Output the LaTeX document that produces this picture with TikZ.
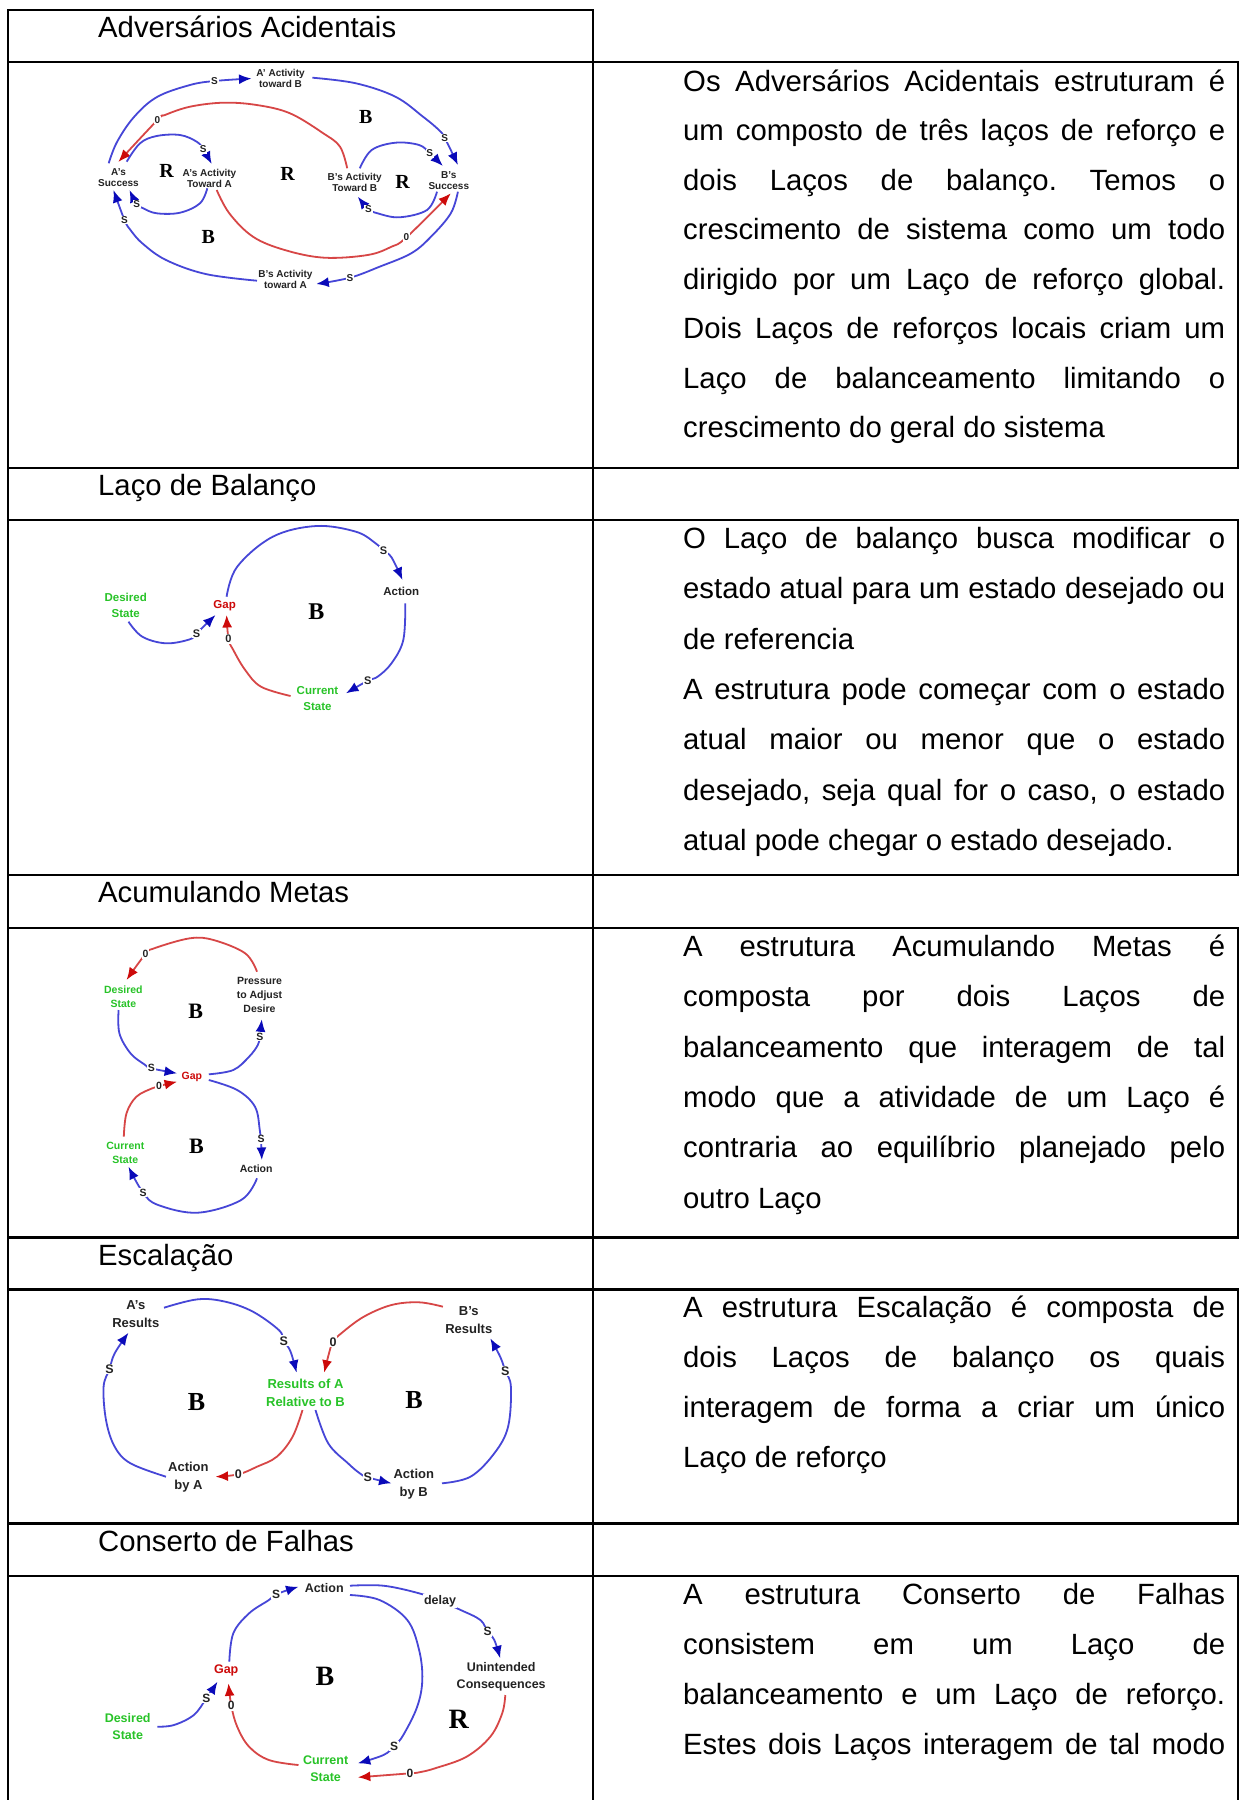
\documentclass[tikz,border=0pt]{standalone}
\usepackage{fontspec}
\setmainfont{Liberation Sans}
\newfontfamily\loopfont{Liberation Serif}
\usetikzlibrary{arrows.meta}
\definecolor{lnblue}{RGB}{70,70,215}
\definecolor{hdblue}{RGB}{10,10,185}
\definecolor{lnred}{RGB}{215,70,70}
\definecolor{hdred}{RGB}{205,10,10}
\definecolor{grn}{RGB}{40,195,40}
\definecolor{lbltxt}{RGB}{35,35,35}
\frenchspacing
\newcommand\jtxt[1]{\makebox[542pt][s]{#1}}
\newcommand\dsz{\fontsize{10}{11}\selectfont}
\newcommand\psz{\fontsize{10}{10}\selectfont}
\newcommand\lsz{\fontsize{20}{20}\selectfont}
\begin{document}
\begin{tikzpicture}[x=1pt,y=-1pt,
 tbl/.style={line width=2.3pt, line cap=rect},
 body/.style={anchor=base west, inner sep=0pt, font=\fontsize{29.3}{35}\selectfont},
 bl/.style={draw=lnblue, line width=1.8pt, -{Latex[length=12.5pt,width=10pt,color=hdblue]}},
 rd/.style={draw=lnred, line width=1.8pt, -{Latex[length=12.5pt,width=10pt,color=hdred]}},
 lb/.style={align=center, inner sep=0pt, text=lbltxt, font=\dsz\bfseries},
 gl/.style={lb, text=grn},
 rl/.style={lb, text=hdred},
 pol/.style={inner sep=0.8pt, fill=white, text=lbltxt, font=\psz\bfseries},
 lp/.style={inner sep=0pt, font=\loopfont\bfseries\lsz},
]
\useasboundingbox (0,0) rectangle (1241,1800);
\fill[white] (0,0) rectangle (1241,1800);

% ---------------- table ----------------
\draw[tbl] (8,10) -- (593,10);
\draw[tbl] (8,10) -- (8,1800);
\draw[tbl] (593,10) -- (593,1800);
\foreach \yy in {61.7,468,520,875,928,1237.5,1289.5,1523.5,1575.7}
  \draw[tbl] (8,\yy) -- (1238,\yy);
\draw[tbl] (1238,61.7) -- (1238,468);
\draw[tbl] (1238,520) -- (1238,875);
\draw[tbl] (1238,928) -- (1238,1237.5);
\draw[tbl] (1238,1289.5) -- (1238,1523.5);
\draw[tbl] (1238,1575.7) -- (1238,1800);

% ---------------- titles ----------------
\node[body] (t1) at (98,37.3) {Adversários Acidentais};
\node[body] (t2) at (98,495) {Laço de Balanço};
\node[body] (t3) at (98,902.5) {Acumulando Metas};
\node[body] (t4) at (98,1265) {Escalação};
\node[body] (t5) at (98,1551) {Conserto de Falhas};

% ---------------- texts ----------------
\node[body] (a1) at (683,91) {\jtxt{Os Adversários Acidentais estruturam é}};
\node[body] (a2) at (683,140.5) {\jtxt{um composto de três laços de reforço e}};
\node[body] (a3) at (683,190) {\jtxt{dois Laços de balanço. Temos o}};
\node[body] (a4) at (683,239.5) {\jtxt{crescimento de sistema como um todo}};
\node[body] (a5) at (683,289) {\jtxt{dirigido por um Laço de reforço global.}};
\node[body] (a6) at (683,338.5) {\jtxt{Dois Laços de reforços locais criam um}};
\node[body] (a7) at (683,388) {\jtxt{Laço de balanceamento limitando o}};
\node[body] (a8) at (683,437.5) {crescimento do geral do sistema};

\node[body] (b1) at (683,548.5) {\jtxt{O Laço de balanço busca modificar o}};
\node[body] (b2) at (683,598.8) {\jtxt{estado atual para um estado desejado ou}};
\node[body] (b3) at (683,649.1) {de referencia};
\node[body] (b4) at (683,699.4) {\jtxt{A estrutura pode começar com o estado}};
\node[body] (b5) at (683,749.7) {\jtxt{atual maior ou menor que o estado}};
\node[body] (b6) at (683,800) {\jtxt{desejado, seja qual for o caso, o estado}};
\node[body] (b7) at (683,850.3) {atual pode chegar o estado desejado.};

\node[body] (c1) at (683,956.5) {\jtxt{A estrutura Acumulando Metas é}};
\node[body] (c2) at (683,1006.8) {\jtxt{composta por dois Laços de}};
\node[body] (c3) at (683,1057.1) {\jtxt{balanceamento que interagem de tal}};
\node[body] (c4) at (683,1107.4) {\jtxt{modo que a atividade de um Laço é}};
\node[body] (c5) at (683,1157.7) {\jtxt{contraria ao equilíbrio planejado pelo}};
\node[body] (c6) at (683,1208) {outro Laço};

\node[body] (d1) at (683,1317) {\jtxt{A estrutura Escalação é composta de}};
\node[body] (d2) at (683,1367.3) {\jtxt{dois Laços de balanço os quais}};
\node[body] (d3) at (683,1417.6) {\jtxt{interagem de forma a criar um único}};
\node[body] (d4) at (683,1467.9) {Laço de reforço};

\node[body] (e1) at (683,1604) {\jtxt{A estrutura Conserto de Falhas}};
\node[body] (e2) at (683,1654.3) {\jtxt{consistem em um Laço de}};
\node[body] (e3) at (683,1704.6) {\jtxt{balanceamento e um Laço de reforço.}};
\node[body] (e4) at (683,1754.9) {\jtxt{Estes dois Laços interagem de tal modo}};

% ================= Diagram 1 =================
\draw[bl] plot[smooth,tension=0.6] coordinates {(108.7,163.3) (117,142) (134,117) (157,97) (190,85) (214.5,81) (251.5,78.5)};
\draw[bl] plot[smooth,tension=0.6] coordinates {(312.4,77.7) (355.9,83.3) (395.4,96.7) (423,116.7) (438.9,130) (444.8,138) (457.9,165)};
\draw[rd] plot[smooth,tension=0.6] coordinates {(347.2,168.3) (340,146.7) (323.3,133.3) (290,113.3) (256.7,105) (223.3,102.7) (190,106.7) (165,115) (157.5,120) (118.3,162)};
\draw[bl] plot[smooth,tension=0.6] coordinates {(126.7,161.7) (140,143.3) (156.7,136) (180,135) (196.7,141.7) (203.3,149.3) (211.7,164)};
\draw[bl] plot[smooth,tension=0.6] coordinates {(207.3,188.3) (200,203.3) (180,212.7) (156.7,213.3) (143.3,208.3) (136.7,204) (129.5,190)};
\draw[bl] plot[smooth,tension=0.6] coordinates {(257,280.7) (205.6,274) (166,260) (142.3,243.3) (130.5,230) (124.5,220) (113.5,190)};
\draw[bl] plot[smooth,tension=0.6] coordinates {(457.9,191.7) (450.8,213.3) (431,236.7) (411.2,253.3) (379.6,266.7) (350,277.7) (316.3,284)};
\draw[rd] plot[smooth,tension=0.6] coordinates {(216.7,190) (229.3,213.3) (253,236.7) (284.7,250) (324.2,257.7) (367.7,255) (391.5,246.7) (406.5,237.3) (450.8,193.3)};
\draw[bl] plot[smooth,tension=0.6] coordinates {(359.8,168.3) (371.7,150) (395.4,142.7) (419.1,145) (429.8,153.3) (442.9,166)};
\draw[bl] plot[smooth,tension=0.6] coordinates {(437,191.7) (427,210) (399.4,217.3) (377.6,213.3) (368.5,209) (357.8,196.7)};

\node[lb] (n1ab) at (280.5,78.8) {A' Activity\\toward B};
\node[lb] (n1as) at (118.5,178) {A's\\Success};
\node[lb] (n1aa) at (209.5,178.5) {A's Activity\\Toward A};
\node[lb] (n1bb) at (354.7,182.5) {B's Activity\\Toward B};
\node[lb] (n1bs) at (448.8,180.5) {B's\\Success};
\node[lb] (n1ba) at (285.5,279.5) {B's Activity\\toward A};
\node[lp] (l1a) at (365.8,116.7) {B};
\node[lp] (l1b) at (166.5,171) {R};
\node[lp] (l1c) at (287.5,174) {R};
\node[lp] (l1d) at (402.5,181.7) {R};
\node[lp] (l1e) at (208.4,236.7) {B};
\node[pol] (p1a) at (214.5,81) {S};
\node[pol] (p1b) at (444.8,138) {S};
\node[pol] (p1c) at (157.5,120) {0};
\node[pol] (p1d) at (203.3,149.3) {S};
\node[pol] (p1e) at (136.7,204) {S};
\node[pol] (p1f) at (124.5,220) {S};
\node[pol] (p1g) at (350,277.7) {S};
\node[pol] (p1h) at (406.5,237.3) {0};
\node[pol] (p1i) at (429.8,153.3) {S};
\node[pol] (p1j) at (368.5,209) {S};

% ================= Diagram 2 =================
\renewcommand\dsz{\fontsize{11.5}{15.6}\selectfont}
\renewcommand\psz{\fontsize{11}{11}\selectfont}
\renewcommand\lsz{\fontsize{24}{24}\selectfont}
\draw[bl] plot[smooth,tension=0.6] coordinates {(226.6,596.7) (237.2,566.7) (272.8,536.7) (316.3,526) (355.9,531.7) (375.6,543.3) (383.5,551) (391.5,557.3) (402.5,580)};
\draw[bl] plot[smooth,tension=0.6] coordinates {(405.3,603.3) (403.3,640) (391.5,663.3) (377.6,676.7) (367.7,680.7) (346,693.3)};
\draw[rd] plot[smooth,tension=0.6] coordinates {(290.6,696) (261,686.7) (245.2,670) (233.3,650) (228.5,639) (226.6,615)};
\draw[bl] plot[smooth,tension=0.6] coordinates {(128.5,621.7) (142.3,636.7) (166,643.3) (189.8,639.3) (196.5,633.3) (215.5,615)};
\node[gl] (n2ds) at (125.7,605.5) {Desired\\State};
\node[rl] (n2gap) at (224.6,605.7) {Gap};
\node[lb] (n2act) at (401.3,591.7) {Action};
\node[gl] (n2cs) at (317.5,698.3) {Current\\State};
\node[lp] (l2a) at (316.3,611.7) {B};
\node[pol] (p2a) at (383.5,551) {S};
\node[pol] (p2b) at (367.7,680.7) {S};
\node[pol] (p2c) at (228.5,639) {0};
\node[pol] (p2d) at (196.5,633.3) {S};

% ================= Diagram 3 =================
\renewcommand\dsz{\fontsize{10.5}{14}\selectfont}
\renewcommand\psz{\fontsize{10.5}{10.5}\selectfont}
\renewcommand\lsz{\fontsize{22}{22}\selectfont}
\draw[rd] plot[smooth,tension=0.6] coordinates {(257,971.7) (245.2,953.3) (213.5,940) (189.8,938.3) (154.2,948.3) (145.5,954) (126.5,980)};
\draw[bl] plot[smooth,tension=0.6] coordinates {(118.6,1010) (119.4,1033.3) (130.5,1053.3) (144.3,1064.3) (151.4,1068.3) (177.1,1073.3)};
\draw[bl] plot[smooth,tension=0.6] coordinates {(208.8,1074.3) (233.3,1070) (249.1,1056.7) (257.8,1045) (259.8,1036.7) (261.8,1019.3)};
\draw[rd] plot[smooth,tension=0.6] coordinates {(123.8,1136.7) (126.5,1113.3) (136.4,1096.7) (152.2,1088.3) (159,1086) (177.1,1081.7)};
\draw[bl] plot[smooth,tension=0.6] coordinates {(208.8,1080) (237.2,1090) (255,1106.7) (259.8,1130) (261,1139.3) (261.8,1160)};
\draw[bl] plot[smooth,tension=0.6] coordinates {(257,1178.3) (241.2,1200) (197.7,1212.7) (158.2,1205) (143.1,1192.7) (128.5,1166.7)};
\node[gl] (n3ds) at (123.4,996.3) {Desired\\State};
\node[lb] (n3pa) at (259.5,995) {Pressure\\to Adjust\\Desire};
\node[rl] (n3gap) at (191.8,1076.7) {Gap};
\node[gl] (n3cs) at (125.3,1152.5) {Current\\State};
\node[lb] (n3act) at (256.2,1169) {Action};
\node[lp] (l3a) at (195.7,1011.7) {B};
\node[lp] (l3b) at (196.5,1146.7) {B};
\node[pol] (p3a) at (145.5,954) {0};
\node[pol] (p3b) at (151.4,1068.3) {S};
\node[pol] (p3c) at (259.8,1036.7) {S};
\node[pol] (p3d) at (159,1086) {0};
\node[pol] (p3e) at (261,1139.3) {S};
\node[pol] (p3f) at (143.1,1192.7) {S};

% ================= Diagram 4 =================
\renewcommand\dsz{\fontsize{13}{18}\selectfont}
\renewcommand\psz{\fontsize{12.5}{12.5}\selectfont}
\renewcommand\lsz{\fontsize{26}{26}\selectfont}
\draw[bl] plot[smooth,tension=0.6] coordinates {(164,1307.7) (197.7,1299.3) (225.4,1301.7) (253,1311.7) (278.8,1330) (283.9,1340.7) (290.6,1351.7) (296.6,1372.7)};
\draw[rd] plot[smooth,tension=0.6] coordinates {(442.9,1306.7) (419.1,1302.3) (391.5,1305) (363.8,1316.7) (342,1332.7) (333,1341.7) (329,1353.3) (324.2,1372.7)};
\draw[bl] plot[smooth,tension=0.6] coordinates {(166,1476.7) (130.5,1463.3) (114.7,1446.7) (106,1420) (103.6,1386.7) (109.5,1369) (114.7,1353.3) (128.5,1332.7)};
\draw[rd] plot[smooth,tension=0.6] coordinates {(302.5,1410) (292.6,1436.7) (276.8,1456.7) (257,1466.7) (238.4,1474.3) (215.5,1476.7)};
\draw[bl] plot[smooth,tension=0.6] coordinates {(315.5,1410) (328.2,1443.3) (348,1463.3) (359.8,1473.3) (367.7,1477.3) (391.5,1483.3)};
\draw[bl] plot[smooth,tension=0.6] coordinates {(442,1483.3) (470.5,1476.7) (494.3,1453.3) (508.1,1426.7) (510.9,1386.7) (505.3,1371) (500.2,1356.7) (490.3,1338.3)};
\node[lb] (n4ar) at (135.8,1314.5) {A's\\Results};
\node[lb] (n4br) at (468.8,1320.5) {B's\\Results};
\node[gl] (n4rab) at (305.5,1393.3) {Results of A\\Relative to B};
\node[lb] (n4aa) at (188.4,1476.7) {Action\\by A};
\node[lb] (n4ab) at (413.8,1483.7) {Action\\by B};
\node[lp] (l4a) at (196.5,1401.7) {B};
\node[lp] (l4b) at (414,1400) {B};
\node[pol] (p4a) at (283.9,1340.7) {S};
\node[pol] (p4b) at (333,1341.7) {0};
\node[pol] (p4c) at (109.5,1369) {S};
\node[pol] (p4d) at (238.4,1474.3) {0};
\node[pol] (p4e) at (367.7,1477.3) {S};
\node[pol] (p4f) at (505.3,1371) {S};

% ================= Diagram 5 =================
\renewcommand\dsz{\fontsize{12.5}{17}\selectfont}
\renewcommand\psz{\fontsize{12}{12}\selectfont}
\renewcommand\lsz{\fontsize{28}{28}\selectfont}
\draw[bl] plot[smooth,tension=0.6] coordinates {(229.3,1661.7) (233.3,1633.3) (249.1,1613.3) (268.9,1600) (276,1594.3) (298.5,1586.7)};
\draw[bl] plot[smooth,tension=0.6] coordinates {(350,1595) (379.6,1600) (407.3,1620) (419.1,1650) (422.3,1680) (417.2,1706.7) (403.3,1735) (394.2,1746) (383.5,1755) (357.8,1763.3)};
\draw[bl] plot[smooth,tension=0.6] coordinates {(350,1585.7) (383.5,1585.7) (419.1,1593.3) (440,1601) (460.7,1610) (480.4,1620) (487.5,1631.7) (494.3,1640) (500.2,1658.3)};
\draw[rd] plot[smooth,tension=0.6] coordinates {(505.3,1695) (502.2,1713.3) (490.3,1736.7) (466.6,1756.7) (435,1768.3) (419.1,1772.3) (410,1773.3) (357.8,1777.3)};
\draw[rd] plot[smooth,tension=0.6] coordinates {(298.5,1765) (268.9,1760) (249.1,1746.7) (237.2,1726.7) (231.3,1705.7) (228.5,1683.3)};
\draw[bl] plot[smooth,tension=0.6] coordinates {(157.4,1726.7) (174,1725) (193.8,1715) (206.4,1698.3) (217.5,1681.7)};
\node[lb] (n5act) at (324.2,1587.7) {Action};
\node[pol, font=\dsz\bfseries] (n5del) at (440,1601) {delay};
\node[lb] (n5uc) at (501.2,1676.3) {Unintended\\Consequences};
\node[rl] (n5gap) at (226.2,1670.7) {Gap};
\node[gl] (n5ds) at (127.7,1726.7) {Desired\\State};
\node[gl] (n5cs) at (325.6,1769) {Current\\State};
\node[lp] (l5a) at (325,1676.7) {B};
\node[lp] (l5b) at (458.7,1719) {R};
\node[pol] (p5a) at (276,1594.3) {S};
\node[pol] (p5b) at (394.2,1746) {S};
\node[pol] (p5c) at (487.5,1631.7) {S};
\node[pol] (p5d) at (410,1773.3) {0};
\node[pol] (p5e) at (231.3,1705.7) {0};
\node[pol] (p5f) at (206.4,1698.3) {S};
\end{tikzpicture}
\end{document}
